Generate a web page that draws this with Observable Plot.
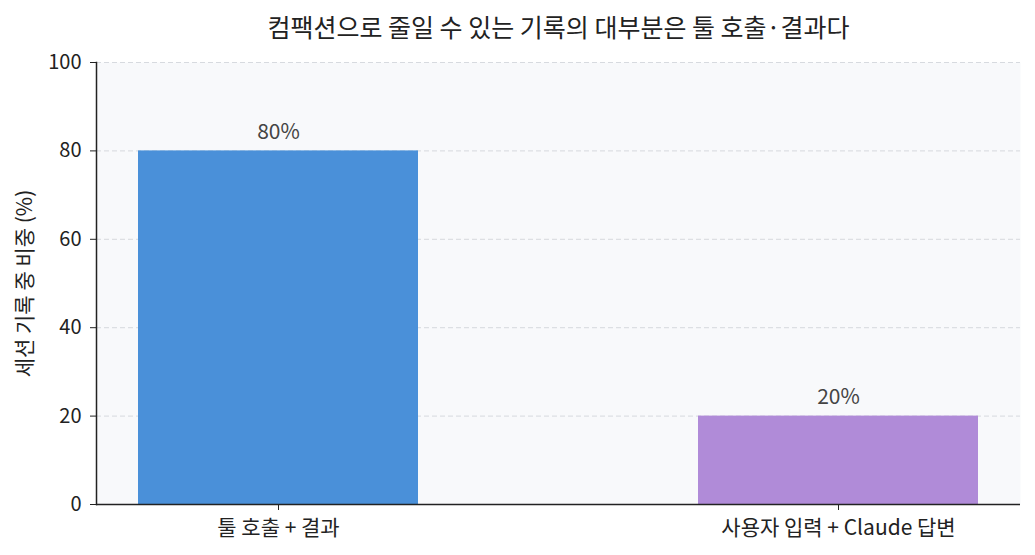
<!DOCTYPE html>
<html><head><meta charset="utf-8">
<script src="https://cdn.jsdelivr.net/npm/d3@7"></script>
<script src="https://cdn.jsdelivr.net/npm/@observablehq/plot@0.6"></script>
<style>
body{margin:0;background:#fff;font-family:"Noto Sans CJK KR","Noto Sans",sans-serif;}
</style></head>
<body><div id="chart"></div>
<script>
const categories = ["툴 호출 + 결과", "사용자 입력 + Claude 답변"];
const shares = [80, 20];
const colors = ["#4a90d9", "#b08bd8"];
const yTicks = [0, 20, 40, 60, 80, 100];
const title = "컴팩션으로 줄일 수 있는 기록의 대부분은 툴 호출·결과다";
const yLabel = "세션 기록 중 비중 (%)";

const data = categories.map((c, i) => ({cat: c, v: shares[i], color: colors[i]}));

const chart = Plot.plot({
  width: 1035, height: 555,
  marginLeft: 96, marginRight: 15, marginTop: 62, marginBottom: 51,
  style: {fontFamily: '"Noto Sans CJK KR","Noto Sans",sans-serif', fontSize: "17px", color: "#222", background: "#fff"},
  x: {domain: categories, paddingInner: 0.5, paddingOuter: 0.075, label: null},
  y: {domain: [0, 100], ticks: yTicks, label: null},
  marks: [
    Plot.frame({fill: "#f8f9fb", stroke: null}),
    Plot.gridY(yTicks, {stroke: "#c8ccd2", strokeOpacity: 0.7, strokeDasharray: "5,3"}),
    Plot.barY(data, {x: "cat", y: "v", fill: "color"}),
    Plot.text(data, {x: "cat", y: "v", text: d => d.v + "%", dy: -19, fill: "#444", fontSize: 21}),
    Plot.axisY({ticks: yTicks, tickSize: 6, tickPadding: 9, fontSize: 20, stroke: "#222", label: null}),
    Plot.axisY({ticks: [], tickSize: 0, fontSize: 21, label: yLabel, labelAnchor: "center", labelOffset: 79, labelArrow: "none"}),
    Plot.axisX({tickSize: 6, tickPadding: 10, fontSize: 21, label: null, stroke: "#222"}),
    Plot.ruleY([0], {stroke: "#222", strokeWidth: 1.5}),
    Plot.frame({anchor: "left", stroke: "#222", strokeWidth: 1.5}),
    Plot.text([title], {frameAnchor: "top", lineAnchor: "middle", dy: -34, fontSize: 25, fill: "#222"})
  ]
});
document.getElementById("chart").appendChild(chart);
</script></body></html>
